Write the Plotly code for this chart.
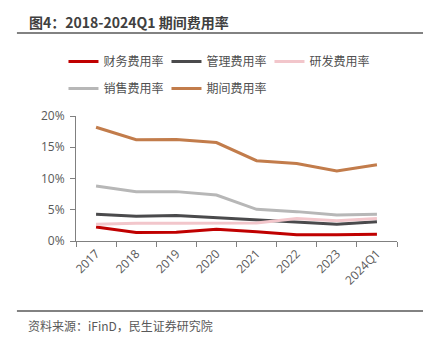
import plotly.graph_objects as go

years = ["2017", "2018", "2019", "2020", "2021", "2022", "2023", "2024Q1"]
finance = [2.25, 1.38, 1.42, 1.87, 1.5, 1.0, 1.0, 1.1]
admin = [4.27, 3.95, 4.1, 3.75, 3.36, 3.0, 2.67, 3.1]
rnd = [2.7, 2.85, 2.85, 2.9, 2.9, 3.6, 3.25, 3.6]
sales = [8.8, 7.9, 7.9, 7.35, 5.07, 4.7, 4.16, 4.3]
period = [18.2, 16.2, 16.25, 15.75, 12.85, 12.4, 11.2, 12.2]

series = [
    ("财务费用率", finance, "#C00000", "legend"),
    ("管理费用率", admin, "#4A4A4C", "legend"),
    ("研发费用率", rnd, "#F2C6CB", "legend"),
    ("销售费用率", sales, "#B7B7B7", "legend2"),
    ("期间费用率", period, "#C27C4B", "legend2"),
]

font_family = "Open Sans, Noto Sans CJK SC, sans-serif"
cjk_family = "Noto Sans CJK SC, sans-serif"

fig = go.Figure()
for name, vals, color, lg in series:
    fig.add_trace(go.Scatter(x=years, y=vals, name=name, mode="lines", legend=lg,
                             line=dict(color=color, width=3)))

legend_common = dict(orientation="h", xanchor="left", yanchor="top",
                     entrywidth=58, entrywidthmode="pixels", itemwidth=30,
                     font=dict(size=12, color="#505050", family=cjk_family),
                     bgcolor="rgba(0,0,0,0)")

fig.update_layout(
    width=431, height=347,
    margin=dict(l=76, r=34, t=116, b=106),
    paper_bgcolor="white", plot_bgcolor="white",
    font=dict(family=font_family, size=12, color="#595959"),
    showlegend=True,
    legend=dict(x=-0.039, y=1.552, **legend_common),
    legend2=dict(x=-0.039, y=1.336, **legend_common),
    xaxis=dict(type="category", range=[-0.5, len(years) - 0.5], showline=True,
               linecolor="#808080", linewidth=1,
               ticks="outside", tickson="boundaries", ticklen=5, tickcolor="#808080",
               tickangle=-45, showgrid=False, zeroline=False,
               tickfont=dict(size=12, color="#595959", family=font_family)),
    yaxis=dict(range=[0, 20], dtick=5, ticksuffix="%", showline=True,
               linecolor="#808080", linewidth=1, ticks="outside", ticklen=5,
               tickcolor="#808080", showgrid=False, zeroline=False,
               ticklabelstandoff=3,
               tickfont=dict(size=12, color="#595959", family=font_family)),
)

fig.add_annotation(text="<b>图4：2018-2024Q1 期间费用率</b>", xref="paper", yref="paper",
                   x=-0.153, y=1.752, xanchor="left", yanchor="middle", showarrow=False,
                   font=dict(size=14, color="#404040", family=cjk_family))
fig.add_annotation(text="资料来源：iFinD，民生证券研究院", xref="paper", yref="paper",
                   x=-0.156, y=-0.672, xanchor="left", yanchor="middle", showarrow=False,
                   font=dict(size=12, color="#595959", family=cjk_family))
fig.add_shape(type="line", xref="paper", yref="paper", x0=-0.184, x1=1.081,
              y0=1.664, y1=1.664, line=dict(color="#595959", width=1.5))
fig.add_shape(type="line", xref="paper", yref="paper", x0=-0.184, x1=1.081,
              y0=-0.56, y1=-0.56, line=dict(color="#595959", width=1.5))

fig.write_html("out.html")
